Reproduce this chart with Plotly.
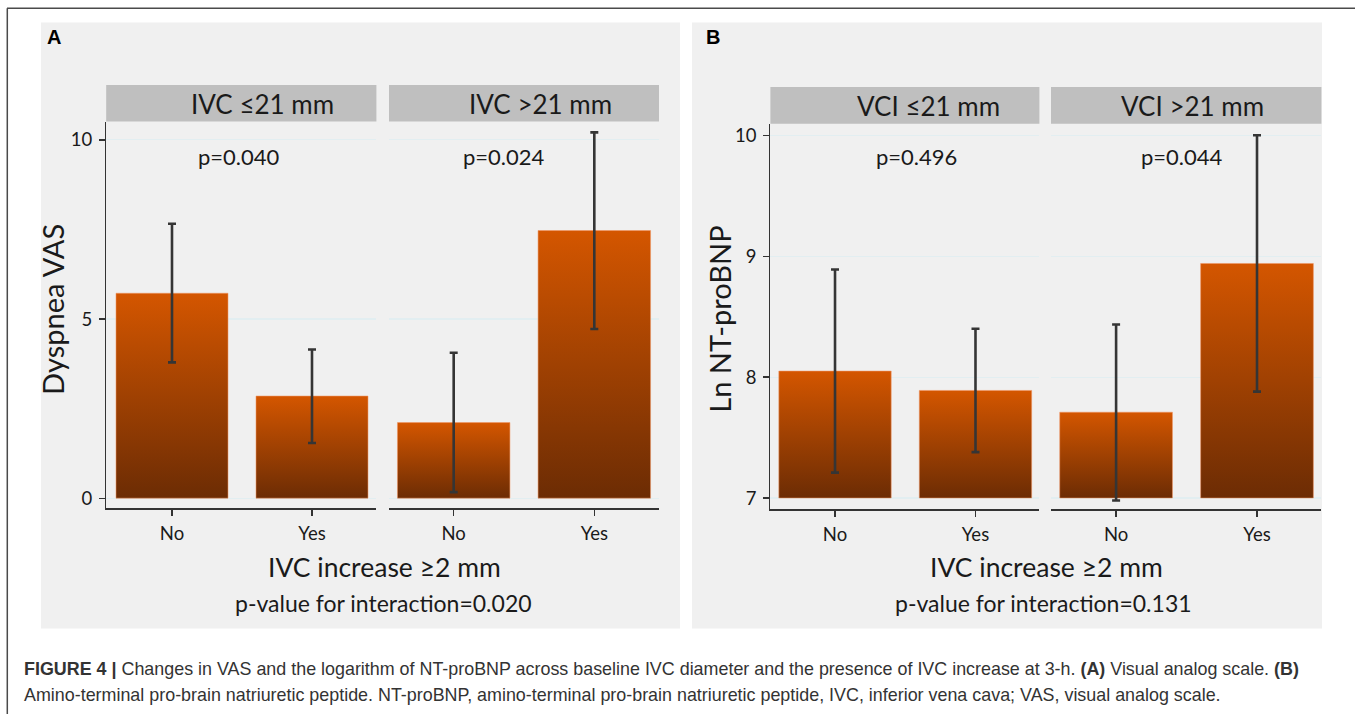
import plotly.graph_objects as go

W, H = 1355, 714

# ---------------- data ----------------
categories = ["No", "Yes"]
cat_pos = [0, 1]

facet_A = ["IVC ≤21 mm", "IVC >21 mm"]
facet_B = ["VCI ≤21 mm", "VCI >21 mm"]

# Panel A: Dyspnea VAS (mean, lower CI, upper CI)
vas_le21_mean = [5.72, 2.85]
vas_le21_lo = [3.79, 1.54]
vas_le21_hi = [7.66, 4.15]
vas_gt21_mean = [2.11, 7.47]
vas_gt21_lo = [0.17, 4.72]
vas_gt21_hi = [4.06, 10.21]

# Panel B: Ln NT-proBNP
bnp_le21_mean = [8.05, 7.89]
bnp_le21_lo = [7.21, 7.38]
bnp_le21_hi = [8.89, 8.40]
bnp_gt21_mean = [7.71, 8.94]
bnp_gt21_lo = [6.98, 7.88]
bnp_gt21_hi = [8.435, 10.0]

pvals_A = ["p=0.040", "p=0.024"]
pvals_B = ["p=0.496", "p=0.044"]
interaction_A = "p-value for interaction=0.020"
interaction_B = "p-value for interaction=0.131"

yticks_A = [0, 5, 10]
yticks_B = [7, 8, 9, 10]
base_A = 0
base_B = 7

# ---------------- style ----------------
FONT = "Lato"
BAR_DARK = "rgb(108,44,4)"
BAR_LIGHT = "rgb(212,86,0)"
ERR = "#353535"
AX = "#333333"
GRID = "rgb(226,238,241)"
STRIP = "rgb(191,191,191)"
PANEL = "rgb(240,240,240)"
TXT = "#1a1a1a"
BAR_HALF = 0.4


def px(x):
    return x / W


def py(y):
    return 1 - y / H


fig = go.Figure()


def add_facet(xref, yref, means, los, his, base):
    for i, m in enumerate(means):
        c = cat_pos[i]
        fig.add_trace(go.Scatter(
            x=[c - BAR_HALF, c - BAR_HALF, c + BAR_HALF, c + BAR_HALF, c - BAR_HALF],
            y=[base, m, m, base, base],
            mode="lines", fill="toself",
            line=dict(color="rgba(240,150,100,0.55)", width=1),
            fillgradient=dict(type="vertical",
                              colorscale=[[0, BAR_DARK], [1, BAR_LIGHT]]),
            xaxis=xref, yaxis=yref, showlegend=False, hoverinfo="skip"))
    fig.add_trace(go.Scatter(
        x=cat_pos, y=means, mode="markers",
        marker=dict(size=1, color="rgba(0,0,0,0)"),
        error_y=dict(type="data", symmetric=False,
                     array=[h - m for h, m in zip(his, means)],
                     arrayminus=[m - l for m, l in zip(means, los)],
                     color=ERR, thickness=2.6, width=4),
        xaxis=xref, yaxis=yref, showlegend=False, hoverinfo="skip"))


add_facet("x", "y", vas_le21_mean, vas_le21_lo, vas_le21_hi, base_A)
add_facet("x2", "y2", vas_gt21_mean, vas_gt21_lo, vas_gt21_hi, base_A)
add_facet("x3", "y3", bnp_le21_mean, bnp_le21_lo, bnp_le21_hi, base_B)
add_facet("x4", "y4", bnp_gt21_mean, bnp_gt21_lo, bnp_gt21_hi, base_B)

# facet geometry in pixels
A_x = [(106.2, 376.4), (389.0, 659.0)]
A_y = (121.6, 508.2)
B_x = [(770.4, 1039.4), (1051.0, 1321.4)]
B_y = (123.7, 509.4)

xcommon = dict(tickvals=cat_pos, ticktext=categories, showline=True,
               linecolor=AX, linewidth=1.3, ticks="outside", ticklen=6,
               tickcolor=AX, tickwidth=1.3, showgrid=False, zeroline=False,
               tickfont=dict(family=FONT, size=18.5, color=TXT),
               ticklabelstandoff=2, fixedrange=True)
ycommon = dict(showgrid=True, gridcolor=GRID, gridwidth=1.2, zeroline=False,
               fixedrange=True)

layout = dict(
    width=W, height=H, margin=dict(l=0, r=0, t=0, b=0),
    paper_bgcolor="white", plot_bgcolor="white", showlegend=False,
    font=dict(family=FONT, color=TXT),
)

for k, (dom, rng, anchor) in enumerate([
        (A_x[0], [-0.47, 1.46], "y"), (A_x[1], [-0.46, 1.46], "y2"),
        (B_x[0], [-0.46, 1.455], "y3"), (B_x[1], [-0.462, 1.457], "y4")]):
    name = "xaxis" if k == 0 else f"xaxis{k+1}"
    layout[name] = dict(xcommon, domain=[px(dom[0]), px(dom[1])],
                        range=rng, anchor=anchor)

yA = dict(ycommon, domain=[py(A_y[1]), py(A_y[0])], range=[-0.28, 10.51])
yB = dict(ycommon, domain=[py(B_y[1]), py(B_y[0])], range=[6.906, 10.096])
ylead = dict(showline=True, linecolor=AX, linewidth=1.3, ticks="outside",
             ticklen=6, tickcolor=AX, tickwidth=1.3,
             tickfont=dict(family=FONT, size=18.5, color=TXT),
             ticklabelstandoff=3)
layout["yaxis"] = dict(yA, **ylead, tickvals=yticks_A, anchor="x")
layout["yaxis2"] = dict(yA, tickvals=yticks_A, showticklabels=False,
                        showline=False, ticks="", anchor="x2", matches="y")
layout["yaxis3"] = dict(yB, **ylead, tickvals=yticks_B, anchor="x3")
layout["yaxis4"] = dict(yB, tickvals=yticks_B, showticklabels=False,
                        showline=False, ticks="", anchor="x4", matches="y3")

fig.update_layout(**layout)

shapes = []
# panel backgrounds
for x0, x1 in [(41, 680), (692, 1322)]:
    shapes.append(dict(type="rect", xref="paper", yref="paper", layer="below",
                       x0=px(x0), x1=px(x1), y0=py(628.6), y1=py(22.4),
                       fillcolor=PANEL, line=dict(width=0)))
# strips
for (x0, x1) in A_x:
    shapes.append(dict(type="rect", xref="paper", yref="paper",
                       x0=px(x0), x1=px(x1), y0=py(A_y[0]), y1=py(84.9),
                       fillcolor=STRIP, line=dict(width=0)))
for (x0, x1) in B_x:
    shapes.append(dict(type="rect", xref="paper", yref="paper",
                       x0=px(x0), x1=px(x1), y0=py(B_y[0]), y1=py(86.9),
                       fillcolor=STRIP, line=dict(width=0)))
# outer frame lines
shapes.append(dict(type="line", xref="paper", yref="paper",
                   x0=px(7), x1=1, y0=py(8.3), y1=py(8.3),
                   line=dict(color="#4a4a4a", width=1.5)))
shapes.append(dict(type="line", xref="paper", yref="paper",
                   x0=px(7.3), x1=px(7.3), y0=0, y1=py(8.3),
                   line=dict(color="#4a4a4a", width=1.5)))
fig.update_layout(shapes=shapes)

ann = []


def text(x, y, s, size, family=FONT, color=TXT, angle=0, xanchor="center"):
    ann.append(dict(x=px(x), y=py(y), xref="paper", yref="paper", text=s,
                    showarrow=False, xanchor=xanchor, yanchor="middle",
                    textangle=angle, font=dict(family=family, size=size,
                                               color=color)))


# panel letters
text(54, 36.7, "<b>A</b>", 20, family="Liberation Sans", color="#000")
text(713, 36.7, "<b>B</b>", 20, family="Liberation Sans", color="#000")
# strip labels
for s, cx in zip(facet_A, [262, 540]):
    text(cx, 103.5, s, 26)
for s, cx in zip(facet_B, [928.6, 1192]):
    text(cx, 105.5, s, 26)
# p-values
for s, cx in zip(pvals_A, [239, 504]):
    text(cx, 156, s, 22)
for s, cx in zip(pvals_B, [916.8, 1182]):
    text(cx, 156, s, 22)
# axis titles
text(52, 310, "Dyspnea VAS", 29, angle=-90)
text(718.7, 319, "Ln NT-proBNP", 29, angle=-90)
text(384, 567, "IVC increase ≥2 mm", 26.5)
text(1046.3, 567, "IVC increase ≥2 mm", 26.5)
text(383, 603, interaction_A, 23)
text(1043, 603, interaction_B, 23)
# caption
cap1 = ("<b>FIGURE 4 |</b> Changes in VAS and the logarithm of NT-proBNP across "
        "baseline IVC diameter and the presence of IVC increase at 3-h. "
        "<b>(A)</b> Visual analog scale. <b>(B)</b>")
cap2 = ("Amino-terminal pro-brain natriuretic peptide. NT-proBNP, amino-terminal "
        "pro-brain natriuretic peptide, IVC, inferior vena cava; VAS, visual "
        "analog scale.")
text(22, 669, cap1, 17.9, family="Liberation Sans", color="#333", xanchor="left")
text(22, 695, cap2, 17.9, family="Liberation Sans", color="#333", xanchor="left")
fig.update_layout(annotations=ann)

fig.write_html("out.html",
               config={"displayModeBar": False, "staticPlot": True},
               post_script="document.body.style.margin='0';"
                           "document.body.style.overflow='hidden';")
